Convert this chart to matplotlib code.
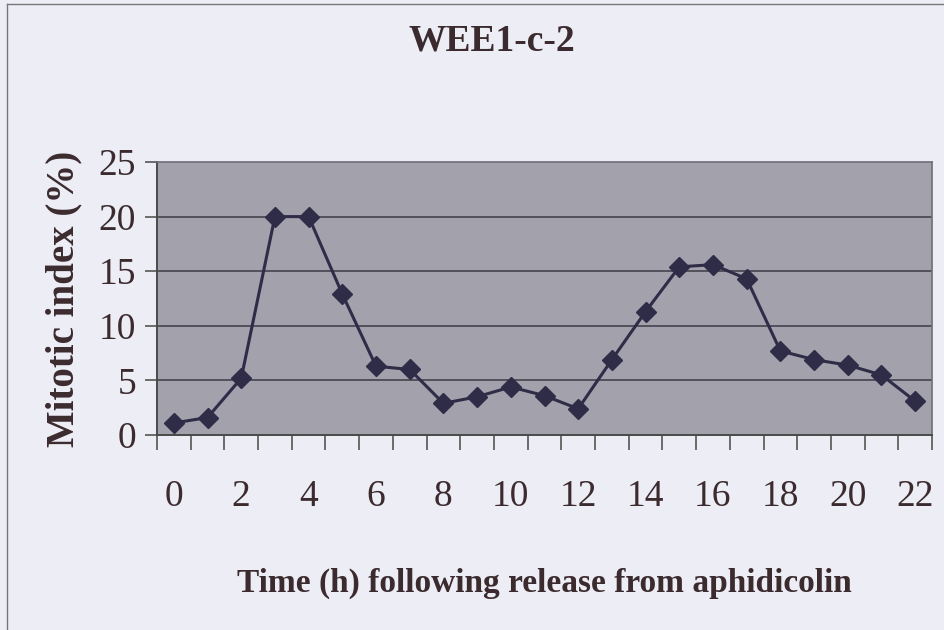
import numpy as np
import matplotlib.pyplot as plt
from matplotlib.lines import Line2D

# Mitotic index after release from aphidicolin block
horas = list(range(23))
indice_mitotico = [1.1, 1.6, 5.2, 20.0, 20.0, 12.9, 6.3, 6.0, 2.9, 3.5, 4.4, 3.6,
                   2.4, 6.9, 11.3, 15.4, 15.6, 14.3, 7.7, 6.9, 6.4, 5.5, 3.1]
etiquetas_x = [str(h) for h in range(0, 23, 2)]
ticks_y = [0, 5, 10, 15, 20, 25]

color_texto = '#3b2b2e'
plt.rcParams['font.family'] = ['Liberation Serif', 'DejaVu Serif']

fig = plt.figure(figsize=(9.45, 6.3), dpi=100)
fig.patch.set_facecolor('#ededf5')

ax = fig.add_axes([157 / 945, 1 - 435 / 630, 775 / 945, 273 / 630])
ax.set_facecolor('#a3a1ac')

# Linea con marcadores de rombo
ax.plot(horas, indice_mitotico, color='#2f2c48', lw=2.2, marker='D',
        markersize=10, markerfacecolor='#2f2c48', markeredgecolor='#2f2c48',
        zorder=3)

ax.set_xlim(-0.5, 22.5)
ax.set_ylim(0, 25)

# Lineas horizontales de la cuadricula
for v in ticks_y[1:-1]:
    ax.axhline(v, color='#4b4a55', lw=1.3, zorder=1)

# Eje x: marcas entre categorias, etiquetas cada 2 horas
ax.set_xticks(np.arange(-0.5, 23, 1), minor=True)
ax.set_xticks(range(0, 23, 2))
ax.set_xticklabels(etiquetas_x)
ax.tick_params(axis='x', which='minor', direction='out', length=11,
               width=1.2, color='#555555')
ax.tick_params(axis='x', which='major', length=0, pad=32,
               labelsize=27, labelcolor=color_texto)

ax.set_yticks(ticks_y)
ax.tick_params(axis='y', direction='out', length=9, width=1.2,
               color='#555555', pad=6, labelsize=27, labelcolor=color_texto)

for lado in ['left', 'bottom']:
    ax.spines[lado].set_color('#4a4a4a')
    ax.spines[lado].set_linewidth(1.4)
for lado in ['top', 'right']:
    ax.spines[lado].set_color('#6e6d78')
    ax.spines[lado].set_linewidth(1.2)

ax.set_ylabel('Mitotic index (%)', fontsize=28, fontweight='bold',
              color=color_texto, labelpad=12)
ax.set_xlabel('Time (h) following release from aphidicolin', fontsize=24,
              fontweight='bold', color=color_texto, labelpad=39)

fig.text(0.52, 1 - 41 / 630, 'WEE1-c-2', ha='center', va='center',
         fontsize=27, fontweight='bold', color=color_texto)

# Marco exterior del grafico
fig.add_artist(Line2D([7 / 945, 7 / 945], [0, 1 - 4 / 630],
                      transform=fig.transFigure, color='#777777', lw=1))
fig.add_artist(Line2D([7 / 945, 1], [1 - 4 / 630, 1 - 4 / 630],
                      transform=fig.transFigure, color='#777777', lw=1))

fig.savefig('out.png', dpi=100, facecolor=fig.get_facecolor())
